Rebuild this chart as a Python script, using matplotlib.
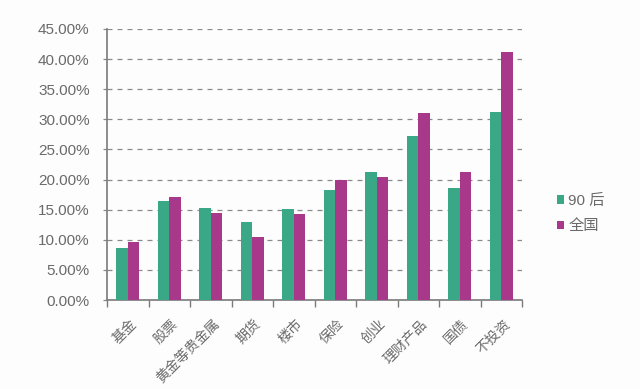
import matplotlib
matplotlib.use("Agg")
import matplotlib.pyplot as plt
import numpy as np
from matplotlib.ticker import FuncFormatter, FixedLocator

plt.rcParams['font.family'] = ['Liberation Sans', 'Noto Sans CJK SC', 'DejaVu Sans']

categories = ['基金', '股票', '黄金等贵金属', '期货', '楼市', '保险', '创业', '理财产品', '国债', '不投资']
post90 = [8.6, 16.4, 15.3, 12.9, 15.1, 18.2, 21.2, 27.2, 18.6, 31.3]
national = [9.7, 17.1, 14.4, 10.5, 14.2, 20.0, 20.4, 31.1, 21.2, 41.1]
series_names = ['90 后', '全国']
green = '#3aa886'
purple = '#a8388a'
gray = '#7a7a7a'
text_gray = '#6a6a6a'

fig = plt.figure(figsize=(6.4, 3.89), dpi=100)
fig.patch.set_facecolor('#fdfdfd')
ax = fig.add_axes([107/640, 1 - 300/389, (522-107)/640, (300-29)/389])
ax.set_facecolor('#fdfdfd')

x = np.arange(len(categories))
w = 0.28
ax.bar(x - w/2, post90, width=w, color=green, label=series_names[0], zorder=3)
ax.bar(x + w/2, national, width=w, color=purple, label=series_names[1], zorder=3)

ax.set_xlim(-0.5, len(categories) - 0.5)
ax.set_ylim(0, 45)
ax.set_yticks(np.arange(0, 46, 5))
ax.yaxis.set_major_formatter(FuncFormatter(lambda v, p: f'{v:.2f}%'))
ax.yaxis.grid(True, linestyle=(0, (4, 4)), color='#8a8a8a', linewidth=0.9, zorder=0)
ax.set_axisbelow(True)

ax.set_xticks(x + 0.04)
ax.set_xticklabels(categories, rotation=45, ha='right', rotation_mode='anchor',
                   fontsize=10, color=text_gray)
ax.xaxis.set_minor_locator(FixedLocator(np.arange(-0.5, len(categories), 1.0)))
ax.tick_params(axis='x', which='major', length=0, pad=12)
ax.tick_params(axis='x', which='minor', length=5, color=gray, width=1)
ax.tick_params(axis='y', length=3, color='#8a8a8a', width=0.9, labelsize=11,
               labelcolor=text_gray, pad=9.5)

for s in ['top', 'right']:
    ax.spines[s].set_visible(False)
for s in ['left', 'bottom']:
    ax.spines[s].set_color(gray)
    ax.spines[s].set_linewidth(1.2)

leg = fig.legend(loc='upper left', bbox_to_anchor=(543/640, 1 - 180/389), frameon=False,
                 handlelength=0.45, handleheight=0.45, handletextpad=0.3,
                 labelspacing=0.75, fontsize=11)
for t in leg.get_texts():
    t.set_color(text_gray)

fig.savefig('out.png', dpi=100, facecolor=fig.get_facecolor())
